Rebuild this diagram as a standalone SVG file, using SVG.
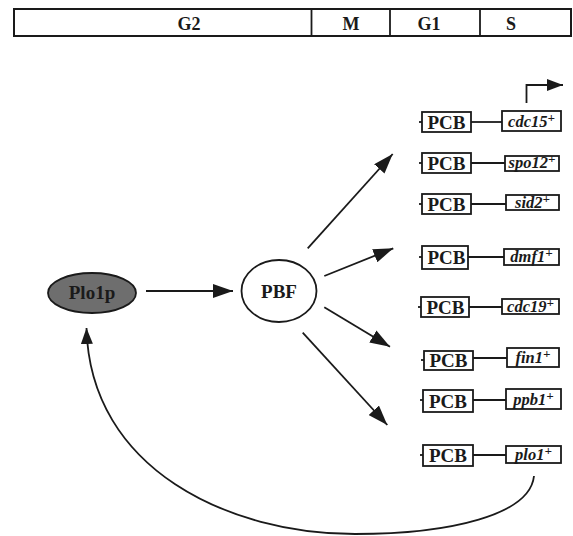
<svg xmlns="http://www.w3.org/2000/svg" width="573" height="536" viewBox="0 0 573 536">
<defs>
<style>
.ln{stroke:#1a1a1a;stroke-width:1.8;fill:none}
.bx{fill:#fff;stroke:#1a1a1a;stroke-width:1.8}
.ph{font-family:"Liberation Serif","Times New Roman",serif;font-weight:bold;font-size:18px;fill:#1a1a1a;text-anchor:middle}
.pcb{font-family:"Liberation Serif","Times New Roman",serif;font-weight:bold;font-size:19px;fill:#1a1a1a;text-anchor:middle}
.gn{font-family:"Liberation Serif","Times New Roman",serif;font-weight:bold;font-style:italic;font-size:16.5px;fill:#1a1a1a;text-anchor:middle}
.sp{font-size:13px}
.nd{font-family:"Liberation Serif","Times New Roman",serif;font-weight:bold;font-size:19px;fill:#1a1a1a;text-anchor:middle}
</style>
<marker id="ah" viewBox="0 0 20 14" refX="20" refY="7" markerWidth="20" markerHeight="14" markerUnits="userSpaceOnUse" orient="auto">
<path d="M0,0 L20,7 L0,14 z" fill="#1a1a1a"/>
</marker>
<marker id="ahs" viewBox="0 0 16 12" refX="16" refY="6" markerWidth="16" markerHeight="12" markerUnits="userSpaceOnUse" orient="auto">
<path d="M0,0 L16,6 L0,12 z" fill="#1a1a1a"/>
</marker>
</defs>
<rect width="573" height="536" fill="#fff"/>

<g id="cell-cycle-bar">
<rect x="14" y="9" width="557" height="27" fill="#fff" stroke="#1a1a1a" stroke-width="2"/>
<line x1="311.5" y1="9" x2="311.5" y2="36" class="ln"/>
<line x1="390" y1="9" x2="390" y2="36" class="ln"/>
<line x1="480" y1="9" x2="480" y2="36" class="ln"/>
<text x="189" y="30" class="ph">G2</text>
<text x="351" y="30" class="ph">M</text>
<text x="429" y="30" class="ph">G1</text>
<text x="511" y="30" class="ph">S</text>
</g>

<g id="Plo1p">
<ellipse cx="92" cy="293" rx="44" ry="20" fill="#6e6e6e" stroke="#1a1a1a" stroke-width="1.8"/>
<text x="92" y="299" class="nd" font-size="18">Plo1p</text>
</g>

<g id="PBF">
<ellipse cx="279" cy="291" rx="37.5" ry="31" fill="#fff" stroke="#1a1a1a" stroke-width="1.8"/>
<text x="279" y="298" class="nd">PBF</text>
</g>

<g id="promoter-arrow">
<path d="M526.5,103 L526.5,85 L563,85" class="ln" marker-end="url(#ahs)"/>
</g>

<g id="gene-cdc15">
<line x1="419" y1="122" x2="422" y2="122" class="ln"/>
<line x1="471" y1="122" x2="502" y2="122" class="ln"/>
<rect x="422" y="112" width="49" height="20" class="bx"/>
<text x="446.5" y="129" class="pcb">PCB</text>
<rect x="502" y="111" width="59" height="20" class="bx"/>
<text x="531.5" y="127" class="gn">cdc15<tspan class="sp" dy="-5">+</tspan></text>
</g>

<g id="gene-spo12">
<line x1="419" y1="163" x2="422" y2="163" class="ln"/>
<line x1="471" y1="163" x2="505" y2="163" class="ln"/>
<rect x="422" y="153" width="49" height="20" class="bx"/>
<text x="446.5" y="170" class="pcb">PCB</text>
<rect x="505" y="156" width="54" height="15" class="bx"/>
<text x="532" y="168" class="gn">spo12<tspan class="sp" dy="-5">+</tspan></text>
</g>

<g id="gene-sid2">
<line x1="419" y1="204" x2="422" y2="204" class="ln"/>
<line x1="471" y1="204" x2="506" y2="204" class="ln"/>
<rect x="422" y="194" width="49" height="20" class="bx"/>
<text x="446.5" y="211" class="pcb">PCB</text>
<rect x="506" y="195" width="53" height="15" class="bx"/>
<text x="532.5" y="208" class="gn">sid2<tspan class="sp" dy="-5">+</tspan></text>
</g>

<g id="gene-dmf1">
<line x1="419" y1="257" x2="422" y2="257" class="ln"/>
<line x1="468" y1="257" x2="504" y2="257" class="ln"/>
<rect x="422" y="246" width="46" height="23" class="bx"/>
<text x="446.5" y="264" class="pcb">PCB</text>
<rect x="504" y="249" width="55" height="16" class="bx"/>
<text x="531.5" y="262" class="gn">dmf1<tspan class="sp" dy="-5">+</tspan></text>
</g>

<g id="gene-cdc19">
<line x1="418" y1="307" x2="421" y2="307" class="ln"/>
<line x1="469" y1="307" x2="502" y2="307" class="ln"/>
<rect x="421" y="297" width="48" height="20" class="bx"/>
<text x="445.5" y="314" class="pcb">PCB</text>
<rect x="502" y="299" width="57" height="15" class="bx"/>
<text x="530.5" y="312" class="gn">cdc19<tspan class="sp" dy="-5">+</tspan></text>
</g>

<g id="gene-fin1">
<line x1="421" y1="360" x2="424" y2="360" class="ln"/>
<line x1="473" y1="358" x2="507" y2="358" class="ln"/>
<rect x="424" y="351" width="49" height="19" class="bx"/>
<text x="448.5" y="367" class="pcb">PCB</text>
<rect x="507" y="348" width="52" height="19" class="bx"/>
<text x="533" y="363" class="gn">fin1<tspan class="sp" dy="-5">+</tspan></text>
</g>

<g id="gene-ppb1">
<line x1="420" y1="400" x2="423" y2="400" class="ln"/>
<line x1="473" y1="400" x2="506" y2="400" class="ln"/>
<rect x="423" y="390" width="50" height="22" class="bx"/>
<text x="448" y="408" class="pcb">PCB</text>
<rect x="506" y="389" width="55" height="20" class="bx"/>
<text x="533.5" y="405" class="gn">ppb1<tspan class="sp" dy="-5">+</tspan></text>
</g>

<g id="gene-plo1">
<line x1="420" y1="455" x2="423" y2="455" class="ln"/>
<line x1="473" y1="455" x2="506" y2="455" class="ln"/>
<rect x="423" y="445" width="50" height="21" class="bx"/>
<text x="448" y="462" class="pcb">PCB</text>
<rect x="506" y="446" width="55" height="17" class="bx"/>
<text x="533.5" y="460" class="gn">plo1<tspan class="sp" dy="-5">+</tspan></text>
</g>

<g id="connectors">
<line x1="146" y1="291" x2="233" y2="291" class="ln" marker-end="url(#ah)"/>
<line x1="307.7" y1="248.3" x2="392.7" y2="154" class="ln" marker-end="url(#ah)"/>
<line x1="324.3" y1="276" x2="393.3" y2="248.3" class="ln" marker-end="url(#ah)"/>
<line x1="324.3" y1="307.3" x2="390" y2="346.7" class="ln" marker-end="url(#ah)"/>
<line x1="302.7" y1="332.7" x2="387.3" y2="425" class="ln" marker-end="url(#ah)"/>
<path d="M534,476 C530,515 450,534 355,534 C230,534 90,470 86.5,328" class="ln" marker-end="url(#ahs)"/>
</g>
</svg>
